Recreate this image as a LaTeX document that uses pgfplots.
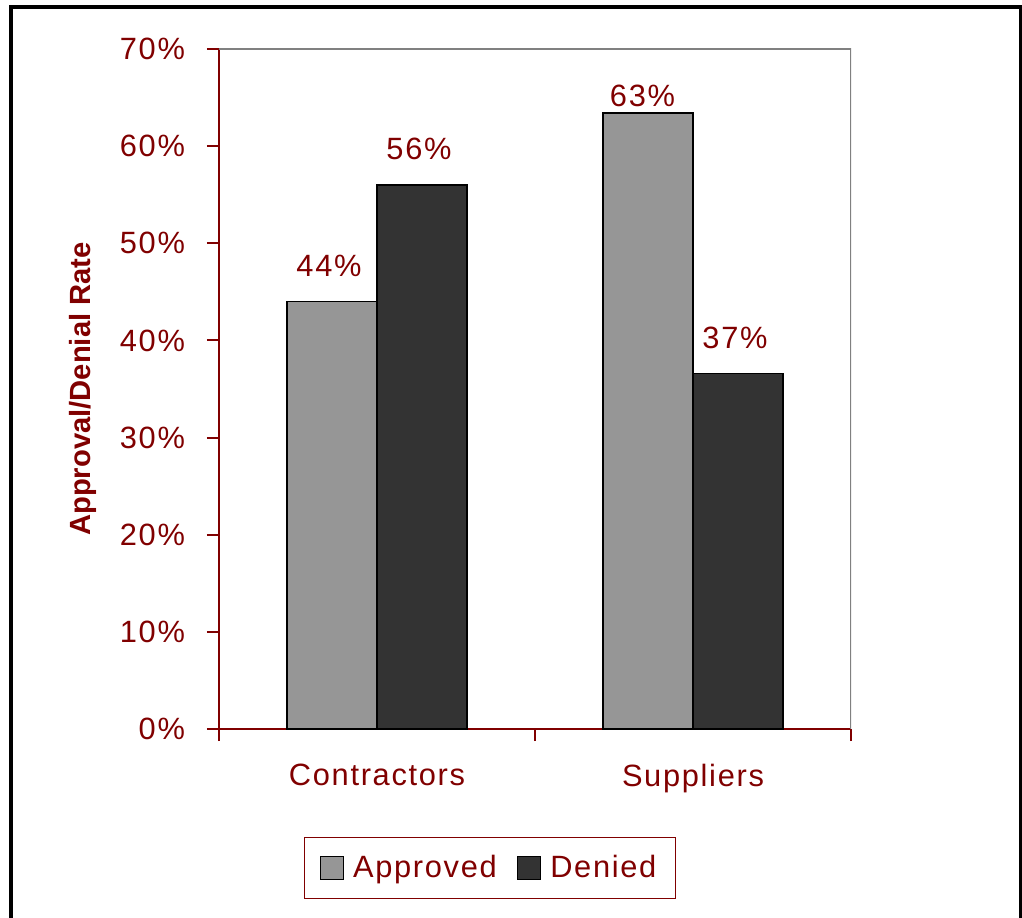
\documentclass[border=0pt]{standalone}
\usepackage{fontspec}
\setmainfont{Liberation Sans}[LetterSpace=5.5]
\newfontfamily\plainfont{Liberation Sans}
\usepackage{pgfplots}
\usepackage{pgfplotstable}
\pgfplotsset{compat=1.18}
\definecolor{darkred}{RGB}{128,0,0}
\definecolor{barA}{RGB}{150,150,150}
\definecolor{barD}{RGB}{51,51,51}
\definecolor{framegray}{RGB}{128,128,128}
\newcommand\chartfont{\fontsize{15.4bp}{18bp}\selectfont}

\pgfplotstableread{
x y dx dy
0 44 -1.5 12
1 63.4 -2.75 3
}\approved
\pgfplotstableread{
x y dx dy
0 56 -1.5 12
1 36.6 -1.5 12
}\denied

\begin{document}
\begin{tikzpicture}
\useasboundingbox (-109.5bp,-94.5bp) rectangle (401.5bp,364.5bp);
\draw[black, line width=2bp] (-104bp,-100bp) -- (-104bp,361bp) -- (400.75bp,361bp) -- (400.75bp,-100bp);
\begin{axis}[
  at={(0,0)}, anchor=south west,
  scale only axis, width=316bp, height=340bp,
  xmin=-0.5, xmax=1.5, ymin=0, ymax=70,
  axis x line*=bottom, axis y line*=left,
  axis line style={-, draw=darkred, line width=1bp},
  tick align=outside,
  major tick length=6bp, minor tick length=6bp,
  tick style={draw=darkred, line width=1bp},
  ytick={0,10,...,70},
  yticklabels={0\%,10\%,20\%,30\%,40\%,50\%,60\%,70\%},
  yticklabel style={xshift=-7.5bp},
  xtick={-0.5,0.5,1.5}, xticklabels={},
  extra x ticks={0,1},
  extra x tick labels={Contractors,Suppliers},
  extra x tick style={major tick length=0pt, tick style={draw=none},
    xticklabel style={yshift=-14bp}},
  ticklabel style={font=\chartfont, text=darkred},
  /pgf/number format/assume math mode=true,
  ybar=0pt, bar width=45bp,
  ylabel={Approval/Denial Rate},
  ylabel style={font=\plainfont\bfseries\fontsize{14.6bp}{17bp}\selectfont, text=darkred,
    at={(axis description cs:-0.216,0.5)}, anchor=center},
  legend style={at={(axis description cs:0.4288,-0.2044)}, anchor=center,
    legend columns=2, draw=darkred, line width=0.75bp, font=\chartfont, text=darkred,
    inner xsep=7.5bp, inner ysep=7bp,
    /tikz/every even column/.append style={column sep=8bp}},
  legend image code/.code={\draw[#1, line width=0.75bp] (0bp,-5.75bp) rectangle (11.5bp,5.75bp); \path (14bp,0bp);},
  nodes near coords={\pgfmathprintnumber[fixed,precision=0]{\pgfplotspointmeta}\%},
  point meta=y,
  visualization depends on={\thisrow{dy} \as \dy},
  visualization depends on={\thisrow{dx} \as \dx},
  nodes near coords style={font=\chartfont, text=darkred, anchor=south, inner sep=0pt,
    yshift=\dy*1bp, xshift=\dx*1bp},
]
\draw[framegray, line width=1bp] (rel axis cs:0,1) -- (rel axis cs:1,1) -- (rel axis cs:1,0);
\addplot[draw=black, line width=0.75bp, fill=barA] table[x=x, y=y] {\approved};
\addplot[draw=black, line width=0.75bp, fill=barD] table[x=x, y=y] {\denied};
\legend{Approved,Denied}
\end{axis}
\end{tikzpicture}
\end{document}
